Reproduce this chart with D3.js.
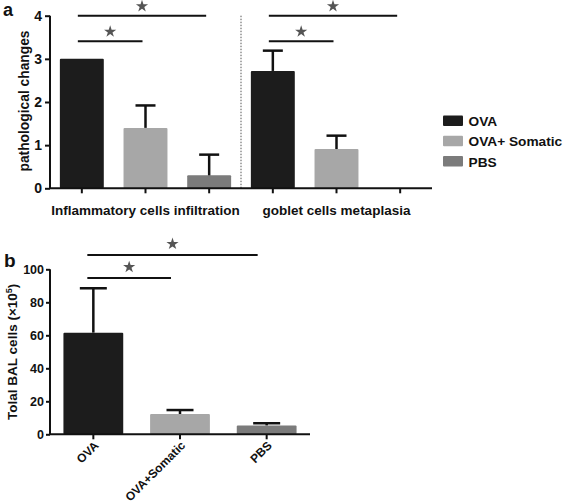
<!DOCTYPE html>
<html><head><meta charset="utf-8">
<script src="https://cdn.jsdelivr.net/npm/d3@7"></script>
<style>
body{margin:0;background:#fff;}
text{font-family:"Liberation Sans",Arial,sans-serif;font-weight:bold;fill:#111;}
</style></head>
<body><svg id="c" width="567" height="504"></svg>
<script>
// Panel a data
const groupsA = ["Inflammatory cells infiltration", "goblet cells metaplasia"];
const seriesNames = ["OVA", "OVA+ Somatic", "PBS"];
const colors = ["#1c1c1c", "#a7a7a7", "#7b7b7b"];
const meansA = [[3.0, 1.4, 0.3], [2.72, 0.91, 0]];
const errA = [[0, 0.52, 0.48], [0.47, 0.31, 0]];
const yTicksA = [0, 1, 2, 3, 4];
const sigA = [[0, 0, 2, 4.0], [0, 0, 1, 3.41], [1, 0, 2, 4.0], [1, 0, 1, 3.41]]; // group, from, to, y
// Panel b data
const catsB = ["OVA", "OVA+Somatic", "PBS"];
const meansB = [61.6, 12.3, 5.4];
const errB = [26.9, 2.4, 1.3];
const yTicksB = [0, 20, 40, 60, 80, 100];
const sigB = [[0, 2, 108.7], [0, 1, 94.7]];

const svg = d3.select("#c");
const star = d3.symbol().type(d3.symbolStar).size(46);

// ---------- Panel a ----------
const slotsA = d3.range(6);
const xA = d3.scaleBand().domain(slotsA).range([50, 432]).paddingInner(0.31).paddingOuter(0.155);
const yA = d3.scaleLinear().domain([0, 4]).range([188.3, 15.7]);
const gA = svg.append("g");
const barsA = [];
meansA.forEach((g, gi) => g.forEach((v, si) => barsA.push({slot: gi * 3 + si, v, e: errA[gi][si], si})));
const cx = s => xA(s) + xA.bandwidth() / 2;

barsA.filter(d => d.v > 0).forEach(d => {
  gA.append("rect").attr("x", xA(d.slot)).attr("y", yA(d.v)).attr("width", xA.bandwidth())
    .attr("height", yA(0) - yA(d.v)).attr("fill", colors[d.si]).attr("rx", 1);
  if (d.e > 0) {
    gA.append("line").attr("x1", cx(d.slot)).attr("x2", cx(d.slot)).attr("y1", yA(d.v)).attr("y2", yA(d.v + d.e))
      .attr("stroke", "#111").attr("stroke-width", 2.5);
    gA.append("line").attr("x1", cx(d.slot) - 10).attr("x2", cx(d.slot) + 10).attr("y1", yA(d.v + d.e)).attr("y2", yA(d.v + d.e))
      .attr("stroke", "#111").attr("stroke-width", 2.5);
  }
});
// divider
gA.append("line").attr("x1", xA(3) - xA.step() * xA.paddingInner() / 2).attr("x2", xA(3) - xA.step() * xA.paddingInner() / 2)
  .attr("y1", yA(4)).attr("y2", yA(0)).attr("stroke", "#555").attr("stroke-width", 1).attr("stroke-dasharray", "1.5,1.5");

// axes
const axYA = gA.append("g").attr("transform", "translate(50,0)")
  .call(d3.axisLeft(yA).tickValues(yTicksA).tickSize(5).tickPadding(3).tickFormat(d3.format("d")));
const axXA = gA.append("g").attr("transform", `translate(0,${yA(0)})`)
  .call(d3.axisBottom(xA).tickSize(5).tickFormat(""));
[axYA, axXA].forEach(a => {
  a.select(".domain").attr("stroke", "#111").attr("stroke-width", 2);
  a.selectAll(".tick line").attr("stroke", "#111").attr("stroke-width", 2);
});
axXA.select(".domain").attr("d", `M50,0H432`);
axYA.select(".domain").attr("d", `M0,${yA(4)}V${yA(0)}`);
axYA.selectAll(".tick text").style("font-size", "14px").style("font-family", '"Liberation Sans",Arial,sans-serif').style("font-weight", "bold").attr("fill", "#111");

groupsA.forEach((g, gi) => {
  gA.append("text").attr("x", cx(gi * 3 + 1)).attr("y", 215).attr("text-anchor", "middle")
    .style("font-size", "13.5px").text(g);
});
gA.append("text").attr("transform", `translate(29,${(yA(4) + yA(0)) / 2 - 1}) rotate(-90)`).attr("text-anchor", "middle")
  .style("font-size", "13.8px").text("pathological changes");
gA.append("text").attr("x", 3).attr("y", 16).style("font-size", "18px").text("a");

sigA.forEach(([gi, a, b, yv]) => {
  const x1 = cx(gi * 3 + a) - 4, x2 = cx(gi * 3 + b) - 3;
  gA.append("line").attr("x1", x1).attr("x2", x2).attr("y1", yA(yv)).attr("y2", yA(yv)).attr("stroke", "#111").attr("stroke-width", 2);
  gA.append("path").attr("d", star).attr("transform", `translate(${(x1 + x2) / 2},${yA(yv) - 9.5})`).attr("fill", "#555");
});

// legend
seriesNames.forEach((n, i) => {
  const y = 121 + i * 20.3;
  svg.append("rect").attr("x", 443).attr("y", y - 5.5).attr("width", 20).attr("height", 10.5).attr("fill", colors[i]).attr("rx", 1);
  svg.append("text").attr("x", 468.5).attr("y", y + 5).style("font-size", "13.7px").text(n);
});

// ---------- Panel b ----------
const xB = d3.scaleBand().domain(catsB).range([50, 310]).paddingInner(0.31).paddingOuter(0.155);
const yB = d3.scaleLinear().domain([0, 100]).range([434.3, 269.3]);
const gB = svg.append("g");
const cxB = c => xB(c) + xB.bandwidth() / 2;
catsB.forEach((c, i) => {
  gB.append("rect").attr("x", xB(c)).attr("y", yB(meansB[i])).attr("width", xB.bandwidth())
    .attr("height", yB(0) - yB(meansB[i])).attr("fill", colors[i]).attr("rx", 1);
  gB.append("line").attr("x1", cxB(c)).attr("x2", cxB(c)).attr("y1", yB(meansB[i])).attr("y2", yB(meansB[i] + errB[i]))
    .attr("stroke", "#111").attr("stroke-width", 2.5);
  gB.append("line").attr("x1", cxB(c) - 13.5).attr("x2", cxB(c) + 13.5).attr("y1", yB(meansB[i] + errB[i])).attr("y2", yB(meansB[i] + errB[i]))
    .attr("stroke", "#111").attr("stroke-width", 2.5);
});
const axYB = gB.append("g").attr("transform", "translate(50,0)")
  .call(d3.axisLeft(yB).tickValues(yTicksB).tickSize(4).tickPadding(2).tickFormat(d3.format("d")));
const axXB = gB.append("g").attr("transform", `translate(0,${yB(0)})`)
  .call(d3.axisBottom(xB).tickSize(5).tickFormat(""));
[axYB, axXB].forEach(a => {
  a.select(".domain").attr("stroke", "#111").attr("stroke-width", 2);
  a.selectAll(".tick line").attr("stroke", "#111").attr("stroke-width", 2);
});
axXB.select(".domain").attr("d", `M50,0H310`);
axYB.select(".domain").attr("d", `M0,${yB(100)}V${yB(0)}`);
axYB.selectAll(".tick text").style("font-size", "12.5px").style("font-family", '"Liberation Sans",Arial,sans-serif').style("font-weight", "bold").attr("fill", "#111");

catsB.forEach(c => {
  gB.append("text").attr("transform", `translate(${cxB(c) + 3},${yB(0) + 9}) rotate(-45)`).attr("text-anchor", "end")
    .attr("dy", "0.35em").style("font-size", "12px").text(c);
});
const yl = gB.append("text").attr("transform", `translate(17,${(yB(100) + yB(0)) / 2}) rotate(-90)`).attr("text-anchor", "middle")
  .style("font-size", "13.5px");
yl.append("tspan").text("Tolal BAL cells (×10");
yl.append("tspan").attr("dy", "-5").style("font-size", "9px").text("5");
yl.append("tspan").attr("dy", "5").text(")");
gB.append("text").attr("x", 4).attr("y", 267).style("font-size", "19px").text("b");

sigB.forEach(([a, b, yv]) => {
  const x1 = cxB(catsB[a]) - 6, x2 = cxB(catsB[b]) - 9;
  gB.append("line").attr("x1", x1).attr("x2", x2).attr("y1", yB(yv)).attr("y2", yB(yv)).attr("stroke", "#111").attr("stroke-width", 2);
  gB.append("path").attr("d", star).attr("transform", `translate(${(x1 + x2) / 2},${yB(yv) - 11})`).attr("fill", "#555");
});
</script></body></html>
